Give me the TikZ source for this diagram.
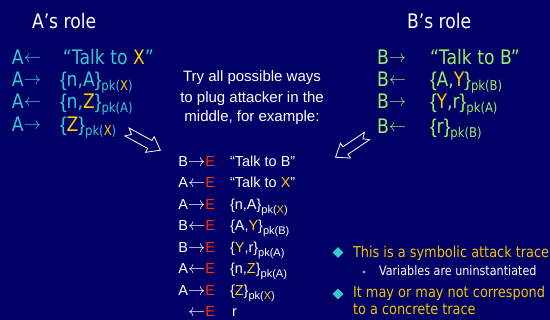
\documentclass[tikz,border=0pt]{standalone}
\usepackage{fontspec}
\setmainfont{DejaVu Sans}
\newfontfamily\tah[FakeStretch=0.86]{DejaVu Sans}
\newfontfamily\arl{Liberation Sans}
\usetikzlibrary{shapes.geometric}
\definecolor{bg}{RGB}{0,0,102}
\definecolor{cteal}{RGB}{51,204,204}
\definecolor{cgreen}{RGB}{150,240,100}
\definecolor{cyel}{RGB}{255,204,0}
\definecolor{cred}{RGB}{255,51,0}
\definecolor{cbul}{RGB}{240,195,0}
\newcommand\pks[1]{\raisebox{-4pt}{\fontsize{13.5}{14}\selectfont pk(#1)}}
\newcommand\pkm[1]{\raisebox{-4pt}{\fontsize{11}{12}\selectfont pk(#1)}}
\newcommand\myla{\raisebox{2.3pt}{\fontsize{17.28}{17}\selectfont$\leftarrow$}}
\newcommand\myra{\raisebox{2.3pt}{\fontsize{17.28}{17}\selectfont$\rightarrow$}}
\newcommand\midla{\raisebox{0.3pt}{\fontsize{17.28}{17}\selectfont$\leftarrow$}}
\newcommand\midra{\raisebox{0.3pt}{\fontsize{17.28}{17}\selectfont$\rightarrow$}}
\newcommand\ob{{\arl\{}}
\newcommand\cb{{\arl\}}}
\newcommand\yl[1]{\textcolor{cyel}{#1}}
\newcommand\Er{\textcolor{cred}{E}}
\tikzset{
  txt/.style={inner sep=0pt, outer sep=0pt, anchor=base west},
  head/.style={txt, text=white, font=\tah\fontsize{20}{22}\selectfont},
  colA/.style={txt, text=cteal, font=\tah\fontsize{20}{22}\selectfont},
  colB/.style={txt, text=cgreen, font=\tah\fontsize{20}{22}\selectfont},
  note/.style={inner sep=0pt, outer sep=0pt, anchor=base, text=white, font=\arl\fontsize{15}{17}\selectfont},
  who/.style={inner sep=0pt, outer sep=0pt, anchor=base east, text=white, font=\arl\fontsize{14.5}{16}\selectfont},
  msg/.style={txt, text=white, font=\arl\fontsize{14.5}{16}\selectfont},
  bul/.style={txt, text=cbul, font=\tah\fontsize{15}{17}\selectfont},
  subbul/.style={txt, text=white, font=\tah\fontsize{13}{15}\selectfont},
  diam/.style={diamond, fill=cteal, inner sep=0pt, minimum size=11pt},
  blockarrow/.style={draw=white, line width=0.8pt, fill=bg, line join=miter}
}
\begin{document}
\begin{tikzpicture}[x=1pt, y=-1pt]
\useasboundingbox (0,0) rectangle (550,320);
\fill[bg] (0,0) rectangle (550,320);

% headings
\node[head] (ha) at (32,29) {A’s role};
\node[head] (hb) at (407,29) {B’s role};

% A's role
\node[colA] (a1) at (12,65) {A\myla};
\node[colA] (ma1) at (63,65) {“Talk to \yl{X}”};
\node[colA] (a2) at (12,87) {A\myra};
\node[colA] (ma2) at (60,87) {\ob n,A\cb\pks{\yl{X}}};
\node[colA] (a3) at (12,109) {A\myla};
\node[colA] (ma3) at (60,109) {\ob n,\yl{Z}\cb\pks{A}};
\node[colA] (a4) at (12,132) {A\myra};
\node[colA] (ma4) at (60,132) {\ob\yl{Z}\cb\pks{\yl{X}}};

% B's role
\node[colB] (b1) at (377,65) {B\myra};
\node[colB] (mb1) at (430,65) {“Talk to B”};
\node[colB] (b2) at (377,87) {B\myla};
\node[colB] (mb2) at (430,87) {\ob A,\yl{Y}\cb\pks{B}};
\node[colB] (b3) at (377,109) {B\myra};
\node[colB] (mb3) at (430,109) {\ob\yl{Y},r\cb\pks{A}};
\node[colB] (b4) at (377,134) {B\myla};
\node[colB] (mb4) at (430,134) {\ob r\cb\pks{B}};

% middle note
\node[note] (t1) at (252,82) {Try all possible ways};
\node[note] (t2) at (252,102.5) {to plug attacker in the};
\node[note] (t3) at (252,122) {middle, for example:};

% block arrows
\begin{scope}[shift={(127,132)}, rotate=-28.6]
  \draw[blockarrow] (0,4.5) -- (26,4.5) -- (26,9) -- (38,0) -- (26,-9) -- (26,-4.5) -- (0,-4.5) -- (5,0) -- cycle;
\end{scope}
\begin{scope}[shift={(367,136)}, rotate=-145.9]
  \draw[blockarrow] (0,4.5) -- (26,4.5) -- (26,9) -- (38,0) -- (26,-9) -- (26,-4.5) -- (0,-4.5) -- (5,0) -- cycle;
\end{scope}

% attack trace
\node[who] (s1) at (215,166.5) {B\midra\Er};
\node[msg] (r1) at (230,166.5) {“Talk to B”};
\node[who] (s2) at (215,188) {A\midla\Er};
\node[msg] (r2) at (230,188) {“Talk to \yl{X}”};
\node[who] (s3) at (215,209.5) {A\midra\Er};
\node[msg] (r3) at (230,209.5) {\{n,A\}\pkm{\yl{X}}};
\node[who] (s4) at (215,231) {B\midla\Er};
\node[msg] (r4) at (230,231) {\{A,\yl{Y}\}\pkm{B}};
\node[who] (s5) at (215,252.5) {B\midra\Er};
\node[msg] (r5) at (230,252.5) {\{\yl{Y},r\}\pkm{A}};
\node[who] (s6) at (215,274) {A\midla\Er};
\node[msg] (r6) at (230,274) {\{n,\yl{Z}\}\pkm{A}};
\node[who] (s7) at (215,295.5) {A\midra\Er};
\node[msg] (r7) at (230,295.5) {\{\yl{Z}\}\pkm{\yl{X}}};
\node[who] (s8) at (215,317) {\midla\Er};
\node[msg] (r8) at (232,317) {r};

% bullets
\node[diam] (d1) at (338,252.5) {};
\node[bul] (u1) at (353,257.5) {This is a symbolic attack trace};
\fill[cteal] (364,272) circle (1.6);
\node[subbul] (u2) at (379,276) {Variables are uninstantiated};
\node[diam] (d2) at (338,294) {};
\node[bul] (u3) at (353,298) {It may or may not correspond};
\node[bul] (u4) at (353,315) {to a concrete trace};
\end{tikzpicture}
\end{document}
